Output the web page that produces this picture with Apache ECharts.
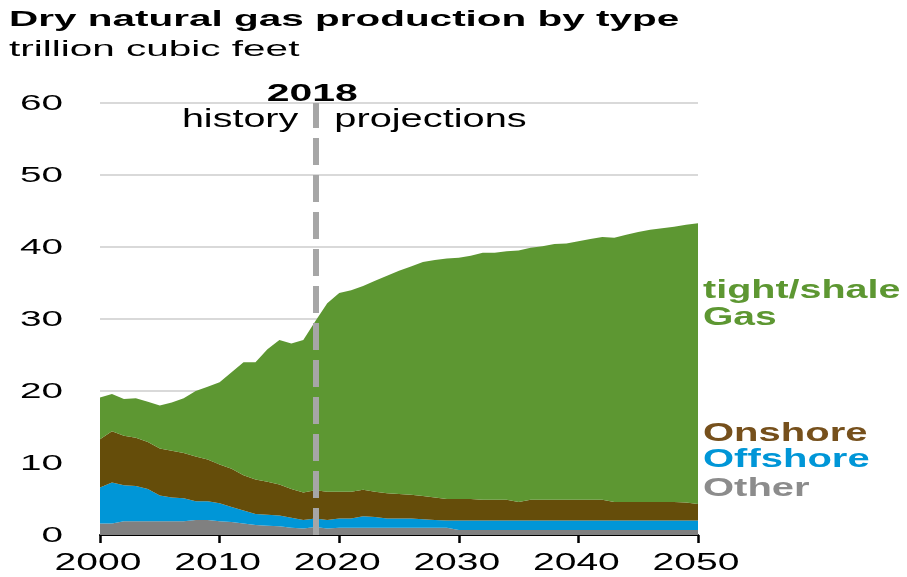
<!DOCTYPE html>
<html>
<head>
<meta charset="utf-8">
<script src="https://cdn.jsdelivr.net/npm/echarts@6/dist/echarts.min.js"></script>
<style>
  body { margin: 0; background: #fff; }
  #main { width: 907px; height: 577px; }
</style>
</head>
<body>
<div id="main"></div>
<script>
// years on the x axis
const years = [
  '2000', '2001', '2002', '2003', '2004', '2005', '2006', '2007', '2008', '2009',
  '2010', '2011', '2012', '2013', '2014', '2015', '2016', '2017', '2018', '2019',
  '2020', '2021', '2022', '2023', '2024', '2025', '2026', '2027', '2028', '2029',
  '2030', '2031', '2032', '2033', '2034', '2035', '2036', '2037', '2038', '2039',
  '2040', '2041', '2042', '2043', '2044', '2045', '2046', '2047', '2048', '2049',
  '2050'
];
// trillion cubic feet
const other = [
  1.6, 1.6, 1.9, 1.9, 1.9, 1.9, 1.9, 1.9, 2.1, 2.1,
  1.9, 1.8, 1.6, 1.4, 1.3, 1.2, 1.0, 0.9, 1.1, 0.9,
  1.0, 1.0, 1.0, 1.0, 1.0, 1.0, 1.0, 1.0, 1.0, 1.0,
  0.7, 0.7, 0.7, 0.7, 0.7, 0.7, 0.7, 0.7, 0.7, 0.7,
  0.7, 0.7, 0.7, 0.7, 0.7, 0.7, 0.7, 0.7, 0.7, 0.7,
  0.7
];
const offshore = [
  5.0, 5.7, 5.0, 4.9, 4.5, 3.6, 3.3, 3.2, 2.6, 2.6,
  2.5, 2.1, 1.8, 1.5, 1.5, 1.5, 1.4, 1.2, 1.2, 1.2,
  1.3, 1.3, 1.6, 1.5, 1.3, 1.3, 1.3, 1.2, 1.1, 1.0,
  1.3, 1.3, 1.3, 1.3, 1.3, 1.3, 1.3, 1.3, 1.3, 1.3,
  1.3, 1.3, 1.3, 1.3, 1.3, 1.3, 1.3, 1.3, 1.3, 1.3,
  1.3
];
const onshore = [
  6.7, 7.1, 6.9, 6.7, 6.5, 6.5, 6.5, 6.3, 6.2, 5.8,
  5.4, 5.3, 4.9, 4.8, 4.6, 4.3, 4.0, 3.8, 3.9, 3.9,
  3.7, 3.7, 3.7, 3.5, 3.5, 3.4, 3.3, 3.2, 3.1, 3.0,
  3.0, 3.0, 2.9, 2.9, 2.9, 2.6, 2.9, 2.9, 2.9, 2.9,
  2.9, 2.9, 2.9, 2.6, 2.6, 2.6, 2.6, 2.6, 2.6, 2.5,
  2.3
];
const tightShale = [
  5.8, 5.2, 5.1, 5.5, 5.6, 6.0, 6.7, 7.6, 9.1, 10.1,
  11.4, 13.4, 15.7, 16.3, 18.4, 20.1, 20.2, 21.2, 23.5, 26.2,
  27.6, 28.0, 28.3, 29.3, 30.2, 31.0, 31.7, 32.5, 33.0, 33.4,
  33.5, 33.8, 34.3, 34.3, 34.5, 34.9, 35.0, 35.2, 35.5, 35.6,
  35.9, 36.2, 36.5, 36.7, 37.1, 37.5, 37.8, 38.0, 38.2, 38.6,
  39.0
];
const xTicks = ['2000', '2010', '2020', '2030', '2040', '2050'];
const yTicks = [0, 10, 20, 30, 40, 50, 60];
const dividerYear = '2018';

const FONT = '"Liberation Sans", Arial, sans-serif';

let chart = echarts.init(document.getElementById('main'));

function area(name, data, color) {
  return {
    name: name,
    type: 'line',
    stack: 'gas',
    data: data,
    symbol: 'none',
    lineStyle: { width: 0 },
    areaStyle: { color: color, opacity: 1 },
    itemStyle: { color: color }
  };
}

let series = [
  area('Other', other, '#808080'),
  area('Offshore', offshore, '#0096d7'),
  area('Onshore', onshore, '#654d0a'),
  area('tight/shale Gas', tightShale, '#5d9732')
];
series[3].markLine = {
  silent: true,
  symbol: ['none', 'none'],
  label: { show: false },
  lineStyle: { color: '#a6a6a6', width: 6, type: [27, 10] },
  data: [[{ coord: [dividerYear, 0] }, { coord: [dividerYear, 60] }]]
};

let option = {
  animation: false,
  grid: { left: 100, right: 209, top: 103, bottom: 42 },
  xAxis: {
    type: 'category',
    data: years,
    boundaryGap: false,
    axisLine: { lineStyle: { color: '#000', width: 2 } },
    axisTick: {
      show: true,
      length: 8,
      lineStyle: { color: '#000', width: 2.5 },
      interval: (i, v) => xTicks.indexOf(v) >= 0
    },
    axisLabel: { show: false },
    splitLine: { show: false }
  },
  yAxis: {
    type: 'value',
    min: 0,
    max: 60,
    interval: 10,
    axisLine: { show: false },
    axisTick: { show: false },
    axisLabel: { show: false },
    splitLine: { lineStyle: { color: '#d9d9d9', width: 2 } }
  },
  series: series
};
chart.setOption(option);

// text is drawn wide in the original, so labels get a horizontal stretch
function txt(x, y, text, opts) {
  return {
    type: 'text',
    x: x,
    y: y,
    scaleX: opts.sx || 1,
    silent: true,
    z: 100,
    style: {
      text: text,
      fill: opts.color || '#000',
      fontSize: opts.size,
      fontWeight: opts.bold ? 'bold' : 'normal',
      fontFamily: FONT,
      align: opts.align || 'left',
      verticalAlign: 'middle'
    }
  };
}

let graphics = [
  txt(9, 19.5, 'Dry natural gas production by type', { size: 22, bold: true, sx: 1.84 }),
  txt(9, 49.5, 'trillion cubic feet', { size: 22.5, sx: 1.8 })
];

yTicks.forEach(v => {
  let py = chart.convertToPixel({ yAxisIndex: 0 }, v);
  graphics.push(txt(63, py + 1, String(v), { size: 21.5, sx: 1.8, align: 'right' }));
});
xTicks.forEach(v => {
  let px = chart.convertToPixel({ xAxisIndex: 0 }, v);
  graphics.push(txt(px - 2, 563.5, v, { size: 23.5, sx: 1.66, align: 'center' }));
});

let dx = chart.convertToPixel({ xAxisIndex: 0 }, dividerYear);
graphics.push(txt(dx - 3, 95, dividerYear, { size: 23, bold: true, sx: 1.78, align: 'center' }));
graphics.push(txt(dx - 17, 120, 'history', { size: 26, sx: 1.52, align: 'right' }));
graphics.push(txt(dx + 19, 120, 'projections', { size: 26, sx: 1.53 }));

// series names at the right end
graphics.push(txt(703, 291, 'tight/shale', { size: 25, bold: true, sx: 1.58, color: '#5d9732' }));
graphics.push(txt(703, 318.5, 'Gas', { size: 25, bold: true, sx: 1.56, color: '#5d9732' }));
graphics.push(txt(703, 434, 'Onshore', { size: 25, bold: true, sx: 1.6, color: '#76501c' }));
graphics.push(txt(703, 460, 'Offshore', { size: 25, bold: true, sx: 1.6, color: '#0096d7' }));
graphics.push(txt(703, 489, 'Other', { size: 25, bold: true, sx: 1.6, color: '#8c8c8c' }));

chart.setOption({ graphic: graphics });
</script>
</body>
</html>
